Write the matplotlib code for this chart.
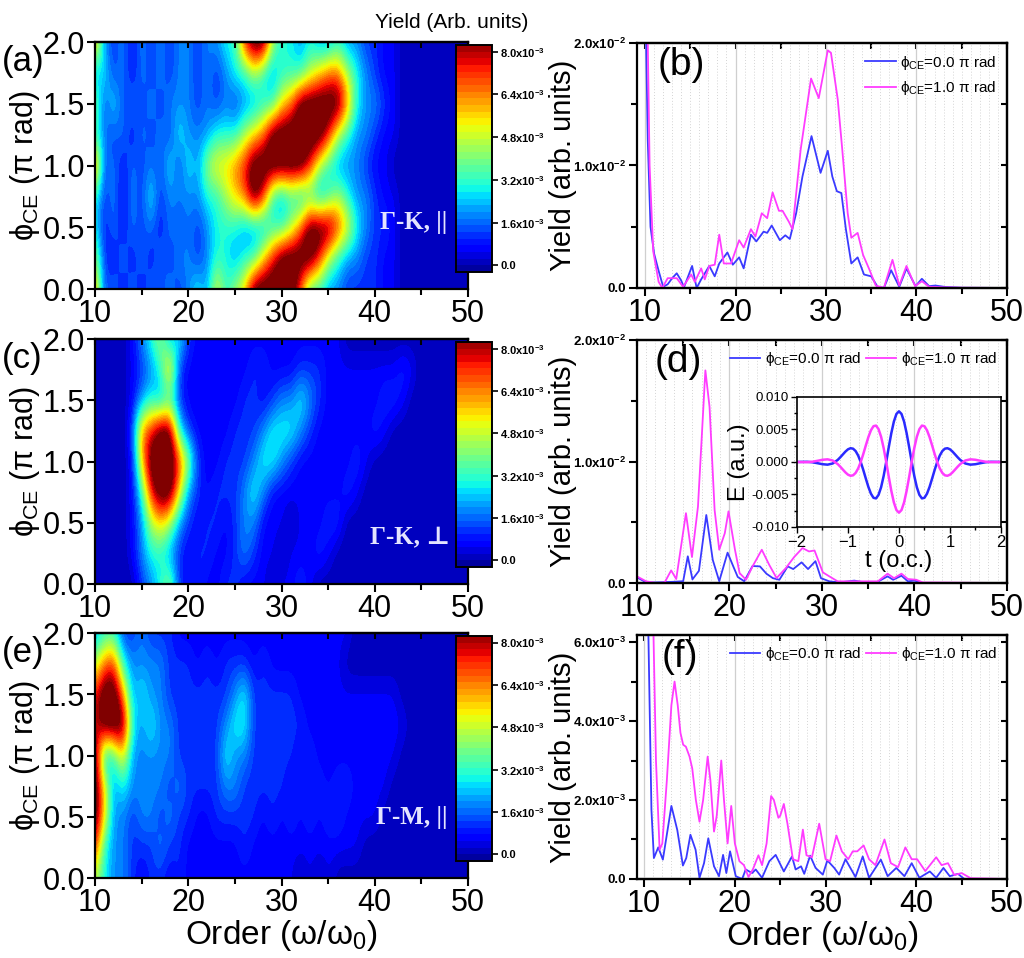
import numpy as np
import matplotlib
matplotlib.use("Agg")
import matplotlib.pyplot as plt
from matplotlib.colors import BoundaryNorm
from matplotlib.cm import ScalarMappable
from matplotlib.ticker import MultipleLocator

plt.rcParams['font.family'] = ['Liberation Sans', 'DejaVu Sans']
plt.rcParams['mathtext.fontset'] = 'custom'
plt.rcParams['mathtext.rm'] = 'Liberation Sans'
plt.rcParams['mathtext.it'] = 'Liberation Sans:italic'
plt.rcParams['mathtext.bf'] = 'Liberation Sans:bold'
plt.rcParams['axes.linewidth'] = 1.6

# ---------------- heat maps ----------------
# rows: phi_CE = 0.0 ... 2.0 (pi rad), step 0.25 ; columns: order 10 ... 50
# each digit is a yield level, see level_value (9 = saturated)
level_value = [0.0, 0.6e-3, 1.1e-3, 1.9e-3, 3.0e-3, 4.5e-3, 5.6e-3, 6.6e-3, 7.5e-3, 9.5e-3]
map_a = [
    "7231313232 3436456999 9974433222 2110000000 0",
    "5213131323 3234434468 9999854332 2110000000 0",
    "4131323132 3234443334 4579998643 2210000000 0",
    "4231324233 3344567984 3434345433 2110000000 0",
    "8231323242 4356678999 9998543332 1100000000 0",
    "4323132324 3334445679 9999985433 2110000000 0",
    "5242323233 3232323344 6799999743 3210000000 0",
    "3423132323 3232344543 4445677543 2110000000 0",
    "7323132323 3233448995 4434334332 2110000000 0",
]
map_c = [
    "0000023452 1211221110 1121000000 0000000000 0",
    "0000134432 1221123211 0111210000 0000000000 0",
    "0000135653 2122123311 1011122000 0000000000 0",
    "0000148996 3212223431 1111111210 0000000000 0",
    "0000169998 5211222344 3211111121 0000000000 0",
    "0000278994 2111122234 4432111111 2100000000 0",
    "0000134342 1111112212 3343211111 1221000000 0",
    "0000123472 1111111221 1122211111 1112100000 0",
    "0000134534 2111111111 1111111000 0000000000 0",
]
map_e = [
    "5433212212 1111111111 1101010000 0000000000 0",
    "8433222322 1111112111 1111111110 0000000000 0",
    "9633233232 2112222212 1212122111 1000000000 0",
    "9634333323 2222332222 2121212211 1100000000 0",
    "9346333332 2222433222 2212111111 1110000000 0",
    "8999434332 2222344222 2221111111 1111000000 0",
    "8997343322 2222234222 2211111111 1110000000 0",
    "5784333322 2121222121 1111111000 0000000000 0",
    "3442232221 1111111111 1111111100 0000000000 0",
]
map_tags = ["\u0393-K, ||", "\u0393-K, \u22a5", "\u0393-M, ||"]
cbar_ticks = [0.0, 1.6e-3, 3.2e-3, 4.8e-3, 6.4e-3, 8.0e-3]
cbar_labels = ["0.0", r"1.6x10$^{\mathbf{-3}}$", r"3.2x10$^{\mathbf{-3}}$",
               r"4.8x10$^{\mathbf{-3}}$", r"6.4x10$^{\mathbf{-3}}$", r"8.0x10$^{\mathbf{-3}}$"]

# ---------------- spectra (yield in 1e-3 arb. units) ----------------
b_blue_x = [10.0, 10.3, 10.6, 11.0, 11.5, 12.0, 12.5, 13.0, 13.5, 14.0, 14.3, 15.2, 15.7, 16.2, 17.1,
            17.7, 18.2, 19.1, 19.7, 20.4, 20.9, 21.7, 22.3, 23.1, 23.5, 24.0, 24.9, 25.5, 26.0, 26.7,
            27.4, 28.4, 29.4, 30.2, 30.7, 31.2, 31.7, 32.2, 32.8, 33.5, 34.2, 35.0, 35.7, 36.4, 37.2,
            38.1, 38.9, 39.9, 40.6, 41.4, 42.1, 43.2, 45.0, 50.0]
b_blue_y = [25.0, 12.0, 5.0, 2.8, 1.4, 0.1, 0.3, 0.8, 1.2, 0.6, 0.05, 1.8, 0.0, 0.7, 1.8,
            0.95, 2.0, 2.9, 1.9, 2.5, 1.6, 4.35, 3.8, 4.6, 4.5, 5.1, 3.9, 4.3, 4.0, 6.1,
            9.1, 12.4, 9.4, 11.2, 9.1, 7.9, 7.75, 4.8, 2.0, 2.5, 1.1, 0.95, 0.1, 0.0, 1.45,
            0.1, 1.6, 0.15, 0.75, 0.15, 0.2, 0.08, 0.02, 0.0]
b_pink_x = [10.2, 10.5, 10.9, 11.5, 11.9, 12.5, 13.5, 14.2, 15.1, 15.5, 16.2, 16.6, 17.1, 17.7, 18.2,
            18.7, 19.5, 20.4, 20.9, 21.7, 22.2, 22.9, 23.5, 24.1, 24.8, 25.2, 25.9, 26.3, 27.2, 28.35,
            29.2, 30.2, 30.55, 31.3, 31.8, 32.4, 32.8, 33.5, 34.1, 34.8, 35.5, 36.4, 37.35, 38.1, 38.9,
            39.85, 40.6, 41.4, 43.0, 45.0, 50.0]
b_pink_y = [25.0, 10.0, 3.0, 0.5, 0.0, 0.8, 0.8, 0.1, 1.1, 0.5, 1.6, 0.7, 1.8, 1.9, 4.35,
            2.0, 2.0, 3.9, 3.3, 4.8, 4.2, 6.1, 5.7, 7.8, 6.3, 6.3, 5.4, 4.8, 11.3, 17.1,
            15.5, 19.4, 19.2, 15.4, 11.3, 6.1, 4.1, 4.5, 2.7, 1.5, 0.2, 0.0, 2.3, 0.2, 1.8,
            0.15, 0.55, 0.1, 0.05, 0.02, 0.0]

d_blue_x = [10.0, 11.0, 12.0, 13.9, 15.0, 15.5, 16.0, 16.7, 17.5, 18.2, 18.9, 19.8, 20.4, 20.9, 21.6,
            22.5, 23.3, 24.0, 24.7, 25.4, 26.3, 26.9, 27.8, 28.5, 29.3, 29.9, 30.8, 31.9, 33.5, 34.6,
            35.9, 37.1, 37.7, 38.6, 39.3, 40.0, 40.9, 50.0]
d_blue_y = [0.47, 0.05, 0.05, 0.1, 0.15, 2.2, 0.3, 1.0, 5.6, 1.9, 0.15, 2.5, 1.4, 0.5, 0.15,
            1.4, 1.37, 0.77, 0.4, 0.27, 1.37, 1.15, 1.7, 1.15, 1.8, 0.4, 0.14, 0.05, 0.2, 0.05,
            0.05, 0.55, 0.27, 0.6, 0.14, 0.2, 0.0, 0.0]
d_pink_x = [10.0, 11.0, 12.1, 13.0, 13.7, 14.25, 15.3, 15.95, 16.6, 17.4, 17.85, 18.4, 18.9, 19.5, 19.9,
            20.6, 21.1, 21.8, 22.5, 23.5, 24.3, 25.1, 26.1, 27.0, 27.9, 28.6, 29.2, 30.1, 30.8, 31.7,
            33.4, 34.8, 36.05, 37.1, 37.8, 38.6, 39.3, 40.2, 40.9, 50.0]
d_pink_y = [0.55, 0.14, 0.0, 0.05, 1.04, 0.33, 5.75, 2.14, 6.3, 17.5, 14.5, 6.0, 2.74, 4.1, 5.9,
            2.74, 0.82, 0.27, 1.37, 2.74, 1.5, 0.41, 1.23, 2.14, 2.88, 2.6, 2.68, 0.88, 0.55, 0.14,
            0.14, 0.14, 0.14, 0.77, 0.4, 0.77, 0.33, 0.27, 0.05, 0.0]

f_blue_x = [10.2, 10.44, 10.8, 11.07, 11.55, 12.06, 13.0, 13.65, 14.27, 14.64, 15.1, 15.67, 16.1, 16.6,
            17.07, 17.7, 18.25, 18.7, 19.06, 19.47, 20.1, 20.8, 21.2, 21.9, 22.3, 23.0, 23.8, 24.5,
            25.4, 26.3, 26.7, 27.3, 27.65, 28.3, 28.9, 29.7, 30.2, 30.96, 31.5, 32.2, 33.3, 34.1,
            34.8, 36.1, 36.85, 37.8, 38.7, 39.5, 40.35, 41.5, 42.2, 43.0, 43.7, 44.6, 45.3, 50.0]
f_blue_y = [12.0, 6.5, 1.75, 0.53, 0.8, 0.49, 1.85, 1.24, 0.34, 0.53, 1.12, 0.74, 0.03, 0.4,
            1.03, 0.32, 0.07, 0.61, 0.15, 0.7, 0.07, 0.0, 0.24, 0.15, 0.24, 0.03, 0.45, 0.61,
            0.19, 0.57, 0.24, 0.32, 0.13, 0.59, 0.28, 0.11, 0.47, 0.28, 0.11, 0.5, 0.05, 0.57,
            0.03, 0.49, 0.07, 0.28, 0.07, 0.4, 0.03, 0.19, 0.03, 0.28, 0.07, 0.13, 0.0, 0.0]
f_pink_x = [10.8, 11.0, 11.3, 11.7, 12.0, 12.5, 13.0, 13.35, 13.7, 14.0, 14.3, 14.6, 15.0, 15.3, 15.7,
            16.1, 16.5, 17.0, 17.3, 17.7, 18.0, 18.5, 18.8, 19.2, 19.6, 20.0, 20.5, 21.0, 21.5, 22.0,
            22.6, 23.0, 23.5, 24.0, 24.3, 24.8, 25.0, 25.4, 25.8, 26.4, 27.0, 27.5, 27.9, 28.5, 29.3,
            30.0, 30.5, 31.2, 31.8, 32.5, 33.0, 33.5, 34.2, 34.8, 35.5, 36.5, 37.2, 38.0, 38.8, 39.5,
            40.1, 41.0, 42.2, 42.8, 43.5, 44.2, 45.0, 46.0, 50.0]
f_pink_y = [12.0, 6.5, 3.0, 0.74, 0.9, 2.5, 4.4, 5.0, 4.4, 3.7, 3.4, 3.35, 3.1, 2.8, 2.0,
            1.45, 2.0, 3.1, 2.5, 1.2, 1.6, 3.0, 2.0, 0.9, 1.85, 0.9, 0.45, 0.35, 0.05, 0.25,
            0.6, 0.35, 0.9, 2.1, 2.0, 1.55, 1.6, 1.9, 1.4, 0.5, 0.45, 1.25, 0.6, 0.55, 1.4,
            0.5, 0.45, 1.1, 0.7, 0.5, 0.7, 0.7, 0.85, 0.5, 0.35, 1.0, 0.4, 0.3, 0.8, 0.5,
            0.5, 0.2, 0.55, 0.35, 0.4, 0.1, 0.15, 0.02, 0.0]

# ---------------- inset: laser field E(t), in 1e-3 a.u. ----------------
t_field = [-2.0, -1.9, -1.8, -1.7, -1.6, -1.5, -1.4, -1.3, -1.2, -1.15, -1.1, -1.05, -1.0, -0.95,
           -0.9, -0.85, -0.8, -0.75, -0.7, -0.65, -0.6, -0.55, -0.5, -0.45, -0.4, -0.35, -0.3,
           -0.25, -0.2, -0.15, -0.1, -0.05, 0.0, 0.05, 0.1, 0.15, 0.2, 0.25, 0.3, 0.35, 0.4, 0.45,
           0.5, 0.55, 0.6, 0.65, 0.7, 0.75, 0.8, 0.85, 0.9, 0.95, 1.0, 1.05, 1.1, 1.15, 1.2, 1.3,
           1.4, 1.5, 1.6, 1.7, 1.8, 1.9, 2.0]
E_phi0 = [0.0, 0.02, 0.03, -0.04, -0.18, -0.34, -0.41, -0.23, 0.33, 0.73, 1.17, 1.60, 1.95, 2.12,
          2.05, 1.68, 0.99, 0.0, -1.22, -2.55, -3.83, -4.87, -5.51, -5.60, -5.05, -3.87, -2.13,
          0.0, 2.28, 4.44, 6.22, 7.39, 7.80, 7.39, 6.22, 4.44, 2.28, 0.0, -2.13, -3.87, -5.05, -5.60,
          -5.51, -4.87, -3.83, -2.55, -1.22, 0.0, 0.99, 1.68, 2.05, 2.12, 1.95, 1.60, 1.17, 0.73, 0.33, -0.23,
          -0.41, -0.34, -0.18, -0.04, 0.03, 0.02, 0.0]
E_phi1 = [0.0, -0.02, -0.03, 0.04, 0.18, 0.34, 0.41, 0.23, -0.33, -0.73, -1.17, -1.60, -1.95, -2.12,
          -2.05, -1.68, -0.99, 0.0, 1.22, 2.55, 3.83, 4.87, 5.51, 5.60, 5.05, 3.87, 2.13,
          0.0, -2.28, -4.44, -6.22, -7.39, -7.80, -7.39, -6.22, -4.44, -2.28, 0.0, 2.13, 3.87, 5.05, 5.60,
          5.51, 4.87, 3.83, 2.55, 1.22, 0.0, -0.99, -1.68, -2.05, -2.12, -1.95, -1.60, -1.17, -0.73, -0.33, 0.23,
          0.41, 0.34, 0.18, 0.04, -0.03, -0.02, 0.0]

BLUE = '#3a3aff'
PINK = '#ff3cff'
lab0 = r"ϕ$_{\mathregular{CE}}$=0.0 π rad"
lab1 = r"ϕ$_{\mathregular{CE}}$=1.0 π rad"


def decode(rows):
    return np.array([[level_value[int(c)] for c in r.replace(' ', '')] for r in rows])


levels = np.linspace(-0.25e-3, 8.25e-3, 35)
cmap = plt.get_cmap('jet').copy()
cmap.set_under('#000080')
cmap.set_over('#800000')
norm = BoundaryNorm(levels, cmap.N, extend='both')

fig = plt.figure(figsize=(10.24, 9.58), dpi=100)

heat_boxes = [[0.0928, 0.6983, 0.3643, 0.2578],
              [0.0928, 0.3904, 0.3643, 0.2557],
              [0.0928, 0.0835, 0.3643, 0.2557]]
cbar_boxes = [[0.4453, 0.716, 0.0352, 0.237],
              [0.4453, 0.4081, 0.0352, 0.2349],
              [0.4453, 0.1013, 0.0352, 0.2349]]
tag_pos = [(0.944, 0.27), (0.953, 0.19), (0.944, 0.245)]
letters_left = ['(a)', '(c)', '(e)']

for i, rows in enumerate([map_a, map_c, map_e]):
    ax = fig.add_axes(heat_boxes[i])
    ax.imshow(decode(rows), origin='lower', extent=[9.5, 50.5, -0.125, 2.125], aspect='auto',
              cmap=cmap, norm=norm, interpolation='bicubic', interpolation_stage='data')
    ax.set_xlim(10, 50)
    ax.set_ylim(0, 2)
    ax.xaxis.set_major_locator(MultipleLocator(10))
    ax.xaxis.set_minor_locator(MultipleLocator(5))
    ax.yaxis.set_major_locator(MultipleLocator(0.5))
    ax.yaxis.set_major_formatter(plt.FormatStrFormatter('%.1f'))
    ax.tick_params(which='both', direction='out', labelsize=22, width=1.5, pad=1)
    ax.tick_params(which='major', length=6)
    ax.tick_params(which='minor', length=4)
    top = ax.secondary_xaxis('top')
    top.xaxis.set_major_locator(MultipleLocator(10))
    top.xaxis.set_minor_locator(MultipleLocator(5))
    top.tick_params(which='both', direction='in', labeltop=False, width=1.5, length=4)
    ax.set_ylabel(r"ϕ$_{\mathregular{CE}}$ (π rad)", fontsize=22)
    ax.yaxis.set_label_coords(-0.142, 0.5)
    tx, ty = tag_pos[i]
    ax.text(tx, ty, map_tags[i], transform=ax.transAxes, ha='right', va='center',
            color='#e4e4ff', fontsize=18, fontweight='bold',
            family=['Liberation Serif', 'DejaVu Serif'])
    fig.text(0.002, heat_boxes[i][1] + heat_boxes[i][3] - 0.003, letters_left[i],
             fontsize=25, va='top', ha='left')
    if i == 2:
        ax.set_xlabel(r"Order (ω/ω$_\mathregular{0}$)", fontsize=24, labelpad=0)

    cax = fig.add_axes(cbar_boxes[i])
    cb = fig.colorbar(ScalarMappable(norm=norm, cmap=cmap), cax=cax, ticks=cbar_ticks,
                      extend='neither')
    cb.ax.set_ylim(levels[0], levels[-1])
    cb.ax.set_yticklabels(cbar_labels, fontweight='bold', fontsize=8)
    cb.ax.tick_params(direction='out', length=4, width=1.2, pad=2)
    cb.outline.set_linewidth(1.4)
    cb.ax.minorticks_off()

fig.text(0.441, 0.977, 'Yield (Arb. units)', ha='center', va='center', fontsize=15)

# ---------------- right-hand spectra ----------------
spec_boxes = [[0.622, 0.6994, 0.3613, 0.2557],
              [0.622, 0.3914, 0.3613, 0.2537],
              [0.622, 0.0825, 0.3613, 0.2547]]
spec_data = [(b_blue_x, b_blue_y, b_pink_x, b_pink_y),
             (d_blue_x, d_blue_y, d_pink_x, d_pink_y),
             (f_blue_x, f_blue_y, f_pink_x, f_pink_y)]
x_left = [9.1, 10.0, 9.2]
y_top = [0.02, 0.02, 6.18e-3]
y_major = [[0.0, 0.01, 0.02], [0.0, 0.01, 0.02], [0.0, 2e-3, 4e-3, 6e-3]]
y_major_labels = [["0.0", r"1.0x10$^{\mathbf{-2}}$", r"2.0x10$^{\mathbf{-2}}$"],
                  ["0.0", r"1.0x10$^{\mathbf{-2}}$", r"2.0x10$^{\mathbf{-2}}$"],
                  ["0.0", r"2.0x10$^{\mathbf{-3}}$", r"4.0x10$^{\mathbf{-3}}$", r"6.0x10$^{\mathbf{-3}}$"]]
y_minor = [0.005, 0.005, 1e-3]
letters_right = ['(b)', '(d)', '(f)']
letter_x = [0.057, 0.049, 0.068]

for i in range(3):
    ax = fig.add_axes(spec_boxes[i])
    bx, by, px, py = spec_data[i]
    l0, = ax.plot(bx, np.array(by) * 1e-3, color=BLUE, lw=1.3)
    l1, = ax.plot(px, np.array(py) * 1e-3, color=PINK, lw=1.3)
    ax.set_xlim(x_left[i], 50)
    ax.set_ylim(0, y_top[i])
    ax.xaxis.set_major_locator(MultipleLocator(10))
    ax.xaxis.set_minor_locator(MultipleLocator(1))
    ax.grid(True, which='major', axis='x', color='#cfcfcf', lw=0.9)
    ax.grid(True, which='minor', axis='x', color='#d4d4d4', lw=0.7, ls=(0, (1, 2)))
    ax.set_axisbelow(True)
    ax.set_yticks(y_major[i], y_major_labels[i])
    ax.yaxis.set_minor_locator(MultipleLocator(y_minor[i]))
    for lab in ax.get_yticklabels():
        lab.set_fontweight('bold')
        lab.set_fontsize(9.5)
    ax.tick_params(axis='x', which='major', labelsize=22, direction='out', length=6, width=1.5, pad=1)
    ax.tick_params(axis='x', which='minor', length=0)
    ax.tick_params(axis='y', which='both', direction='out', width=1.5, pad=2)
    ax.tick_params(axis='y', which='major', length=6)
    ax.tick_params(axis='y', which='minor', length=4)
    bot = ax.secondary_xaxis('bottom')
    bot.set_xticks([15, 25, 35, 45])
    bot.tick_params(direction='out', length=4, width=1.5, labelbottom=False)
    top = ax.secondary_xaxis('top')
    top.xaxis.set_major_locator(MultipleLocator(10))
    top.xaxis.set_minor_locator(MultipleLocator(5))
    top.tick_params(which='both', direction='in', length=4, width=1.5, labeltop=False)
    right = ax.secondary_yaxis('right')
    right.set_yticks(y_major[i])
    right.yaxis.set_minor_locator(MultipleLocator(y_minor[i]))
    right.tick_params(which='both', direction='in', length=4, width=1.5, labelright=False)
    ax.set_ylabel('Yield (arb. units)', fontsize=21)
    ax.yaxis.set_label_coords(-0.163, 0.5)
    ax.text(letter_x[i], 0.985, letters_right[i], transform=ax.transAxes, fontsize=28,
            va='top', ha='left')
    if i == 0:
        ax.legend([l0, l1], [lab0, lab1], loc='upper right', frameon=False, fontsize=11,
                  handlelength=2.0, handletextpad=0.3, labelspacing=0.5, borderaxespad=0.3)
    else:
        ax.legend([l0, l1], [lab0, lab1], loc='upper right', frameon=False, fontsize=11, ncol=2,
                  handlelength=2.0, handletextpad=0.3, columnspacing=0.3, borderaxespad=0.25)
    if i == 2:
        ax.set_xlabel(r"Order (ω/ω$_\mathregular{0}$)", fontsize=24, labelpad=0)

# ---------------- inset ----------------
axi = fig.add_axes([0.7783, 0.4499, 0.1992, 0.1357])
axi.patch.set_alpha(0)
axi.plot(t_field, np.array(E_phi0) * 1e-3, color='#2a2aff', lw=1.8)
axi.plot(t_field, np.array(E_phi1) * 1e-3, color=PINK, lw=1.8)
axi.set_xlim(-2, 2)
axi.set_ylim(-0.01, 0.01)
axi.set_xticks([-2, -1, 0, 1, 2])
axi.set_yticks([-0.01, -0.005, 0.0, 0.005, 0.01],
               ["-0.010", "-0.005", "0.000", "0.005", "0.010"])
axi.xaxis.set_minor_locator(MultipleLocator(0.5))
axi.yaxis.set_minor_locator(MultipleLocator(0.0025))
axi.tick_params(axis='y', labelsize=9.5, pad=2)
axi.tick_params(axis='x', labelsize=12, pad=2)
axi.tick_params(which='both', direction='out', width=1.0)
axi.tick_params(which='major', length=4)
axi.tick_params(which='minor', length=2)
for sp in axi.spines.values():
    sp.set_linewidth(1.2)
axi.set_xlabel('t (o.c.)', fontsize=17, labelpad=0)
axi.set_ylabel('E (a.u.)', fontsize=17, labelpad=1)

fig.savefig('out.png', dpi=100)
